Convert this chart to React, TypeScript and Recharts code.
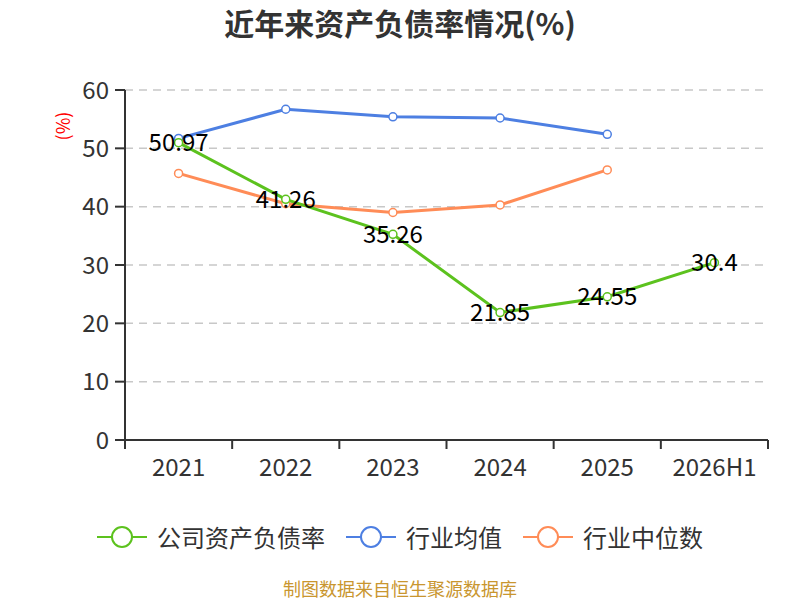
import React from 'react';
import { LineChart, Line, XAxis, YAxis, CartesianGrid, LabelList } from 'recharts';

const categories = ['2021', '2022', '2023', '2024', '2025', '2026H1'];
const companyRate = [50.97, 41.26, 35.26, 21.85, 24.55, 30.4];
const industryAvg: (number | null)[] = [51.7, 56.7, 55.4, 55.2, 52.4, null];
const industryMedian: (number | null)[] = [45.7, 40.5, 39.0, 40.3, 46.3, null];
const yTicks = [0, 10, 20, 30, 40, 50, 60];

const seriesNames = ['公司资产负债率', '行业均值', '行业中位数'];
const colors = ['#5cc21e', '#4d7fe2', '#ff8c57'];

const data = categories.map((c, i) => ({
  name: c,
  company: companyRate[i],
  avg: industryAvg[i],
  median: industryMedian[i],
}));

const FONT = '"Noto Sans CJK SC", "Noto Sans", sans-serif';

const WIDTH = 800;
const HEIGHT = 600;
const MARGIN = { top: 90, right: 32, bottom: 130, left: 65 };
const Y_AXIS_W = 60;
const X_AXIS_H = 30;
const PLOT_W = WIDTH - MARGIN.left - MARGIN.right - Y_AXIS_W;
const BAND = PLOT_W / categories.length;
const AXIS_Y = HEIGHT - MARGIN.bottom - X_AXIS_H;

const XTick = (props: any) => {
  const { x, index, payload } = props;
  const isLast = index === categories.length - 1;
  return (
    <g>
      <line x1={x - BAND / 2} y1={AXIS_Y} x2={x - BAND / 2} y2={AXIS_Y + 9} stroke="#333" strokeWidth={2} />
      {isLast && <line x1={x + BAND / 2} y1={AXIS_Y} x2={x + BAND / 2} y2={AXIS_Y + 9} stroke="#333" strokeWidth={2} />}
      <text x={x} y={AXIS_Y + 25} textAnchor="middle" dominantBaseline="central" fill="#333" fontSize={24} fontFamily={FONT}>
        {payload.value}
      </text>
    </g>
  );
};

const UnitLabel = () => (
  <text x={62} y={126} fill="#f00" fontSize={18} fontFamily={FONT} textAnchor="middle" dominantBaseline="central" transform="rotate(-90 62 126)">
    (%)
  </text>
);

const LegendBar = () => (
  <div style={{ position: 'absolute', left: 0, top: 523, width: WIDTH, display: 'flex', justifyContent: 'center', alignItems: 'center', fontFamily: FONT, fontSize: 24, color: '#333', lineHeight: '28px' }}>
    {seriesNames.map((n, i) => (
      <div key={n} style={{ display: 'flex', alignItems: 'center', marginRight: i < 2 ? 21 : 0 }}>
        <svg width={50} height={24} style={{ marginRight: 10 }}>
          <line x1={0} y1={12} x2={50} y2={12} stroke={colors[i]} strokeWidth={2} />
          <circle cx={25} cy={12} r={10} fill="#fff" stroke={colors[i]} strokeWidth={2} />
        </svg>
        <span>{n}</span>
      </div>
    ))}
  </div>
);

export default function App() {
  return (
    <div style={{ position: 'absolute', left: 0, top: 0, width: WIDTH, height: HEIGHT, background: '#fff', fontFamily: FONT }}>
      <div style={{ position: 'absolute', left: 0, top: 2, width: WIDTH, textAlign: 'center', fontSize: 30, lineHeight: '40px', fontWeight: 'bold', color: '#333' }}>
        近年来资产负债率情况(%)
      </div>
      <LineChart width={WIDTH} height={HEIGHT} data={data} margin={MARGIN}>
        <CartesianGrid horizontal vertical={false} stroke="#c8c8c8" strokeDasharray="8 6" strokeWidth={1.5} />
        <XAxis
          dataKey="name"
          height={X_AXIS_H}
          stroke="#333"
          strokeWidth={2}
          tickLine={false}
          padding={{ left: BAND / 2, right: BAND / 2 }}
          tick={<XTick />}
          interval={0}
        />
        <YAxis
          width={Y_AXIS_W}
          domain={[0, 60]}
          ticks={yTicks}
          stroke="#333"
          strokeWidth={2}
          tickSize={10}
          tickMargin={6}
          tick={{ fill: '#333', fontSize: 24, fontFamily: FONT }}
          label={<UnitLabel />}
        />
        <Line
          dataKey="avg"
          name={seriesNames[1]}
          stroke={colors[1]}
          strokeWidth={3}
          dot={{ r: 4, fill: '#fff', stroke: colors[1], strokeWidth: 1.5 }}
          isAnimationActive={false}
        />
        <Line
          dataKey="median"
          name={seriesNames[2]}
          stroke={colors[2]}
          strokeWidth={3}
          dot={{ r: 4, fill: '#fff', stroke: colors[2], strokeWidth: 1.5 }}
          isAnimationActive={false}
        />
        <Line
          dataKey="company"
          name={seriesNames[0]}
          stroke={colors[0]}
          strokeWidth={3}
          dot={{ r: 4, fill: '#fff', stroke: colors[0], strokeWidth: 1.5 }}
          isAnimationActive={false}
        >
          <LabelList dataKey="company" position="center" fill="#000" fontSize={24} fontFamily={FONT} />
        </Line>
      </LineChart>
      <LegendBar />
      <div style={{ position: 'absolute', left: 0, top: 578, width: WIDTH, textAlign: 'center', fontSize: 18, lineHeight: '20px', color: '#c9962f' }}>
        制图数据来自恒生聚源数据库
      </div>
    </div>
  );
}
